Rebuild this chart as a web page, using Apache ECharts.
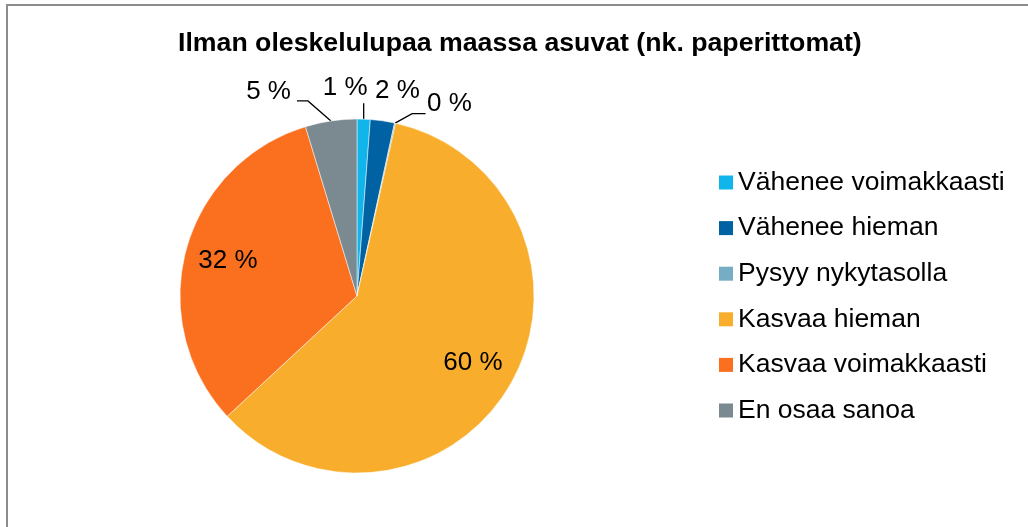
<!DOCTYPE html>
<html>
<head>
<meta charset="utf-8">
<script src="https://cdn.jsdelivr.net/npm/echarts@6/dist/echarts.min.js"></script>
<style>
  html, body { margin: 0; padding: 0; background: #fff; }
  #chart { width: 1028px; height: 527px; }
</style>
</head>
<body>
<div id="chart"></div>
<script>
// Survey answers: expected change, share of respondents (%)
const categories = [
  'Vähenee voimakkaasti',
  'Vähenee hieman',
  'Pysyy nykytasolla',
  'Kasvaa hieman',
  'Kasvaa voimakkaasti',
  'En osaa sanoa'
];
const shares = [1.2, 2.2, 0.1, 59.6, 32.2, 4.7];
const sliceColors = ['#10b5ec', '#0062a3', '#75aec4', '#f8ae2c', '#fa701e', '#7b8991'];
const chartTitle = 'Ilman oleskelulupaa maassa asuvat (nk. paperittomat)';

// Pie geometry (pixels)
const CX = 357, CY = 296, R = 177;

// Label placement per slice: inside labels sit at a fraction of the radius,
// outside labels hang off the rim with an optional leader line.
const labelPlacement = [
  { elbow: [0, -16], tail: 0, text: [4, -31], align: 'right', line: true },
  { text: [-7.5, -30], align: 'left', line: false },
  { elbow: [17, -9.5], tail: 13.5, text: [1.5, -10], align: 'left', line: true, fromEnd: true },
  { inside: 0.755 },
  { inside: 0.755 },
  { elbow: [-23, -20], tail: -11, text: [-6, -9], align: 'right', line: true, fromEnd: true }
];

const total = shares.reduce((a, b) => a + b, 0);
const midAngles = [];
let acc = 0;
shares.forEach(v => {
  midAngles.push((acc + v / 2) / total * Math.PI * 2);
  acc += v;
});

function rimPoint(i, k) {
  const a = midAngles[i];
  return [CX + k * R * Math.sin(a), CY - k * R * Math.cos(a)];
}

const chart = echarts.init(document.getElementById('chart'), null, { renderer: 'canvas' });

const option = {
  backgroundColor: '#ffffff',
  animation: false,
  title: {
    text: chartTitle,
    left: 178,
    top: 30,
    padding: 0,
    textStyle: {
      fontFamily: 'Liberation Sans, Arial, sans-serif',
      fontWeight: 'bold',
      fontSize: 26.7,
      color: '#000000'
    }
  },
  legend: {
    orient: 'vertical',
    left: 719,
    top: 169,
    padding: 0,
    icon: 'rect',
    itemWidth: 14,
    itemHeight: 14,
    itemGap: 18.6,
    data: categories,
    selectedMode: false,
    itemStyle: { borderWidth: 0 },
    textStyle: {
      fontFamily: 'Liberation Sans, Arial, sans-serif',
      fontSize: 26.5,
      color: '#000000'
    }
  },
  graphic: [{
    type: 'polyline',
    shape: { points: [[7, 527], [7, 5], [1028, 5]] },
    style: { stroke: '#8c8c8c', lineWidth: 2, fill: null },
    silent: true
  }],
  series: [{
    type: 'pie',
    center: [CX, CY],
    radius: R,
    startAngle: 90,
    clockwise: true,
    avoidLabelOverlap: false,
    itemStyle: { borderColor: '#ffffff', borderWidth: 0.5 },
    label: {
      show: true,
      position: 'outside',
      fontFamily: 'Liberation Sans, Arial, sans-serif',
      fontSize: 26,
      color: '#000000',
      formatter: p => Math.round(p.percent) + ' %'
    },
    labelLine: {
      show: true,
      length: 10,
      length2: 10,
      lineStyle: { color: '#000000', width: 1.3 }
    },
    labelLayout: function (params) {
      const i = params.dataIndex;
      const spec = labelPlacement[i];
      if (spec.inside) {
        const p = rimPoint(i, spec.inside);
        return { x: p[0], y: p[1], align: 'center', verticalAlign: 'middle' };
      }
      const edge = rimPoint(i, 1);
      const out = { align: spec.align, verticalAlign: 'middle' };
      if (spec.line) {
        const elbow = [edge[0] + spec.elbow[0], edge[1] + spec.elbow[1]];
        const end = [elbow[0] + spec.tail, elbow[1]];
        out.labelLinePoints = [edge, elbow, end];
        const base = spec.fromEnd ? end : edge;
        out.x = base[0] + spec.text[0];
        out.y = base[1] + spec.text[1];
      } else {
        out.x = edge[0] + spec.text[0];
        out.y = edge[1] + spec.text[1];
      }
      return out;
    },
    data: categories.map((name, i) => ({
      name: name,
      value: shares[i],
      itemStyle: { color: sliceColors[i] },
      labelLine: { show: !!labelPlacement[i].line }
    }))
  }]
};

chart.setOption(option);
</script>
</body>
</html>
